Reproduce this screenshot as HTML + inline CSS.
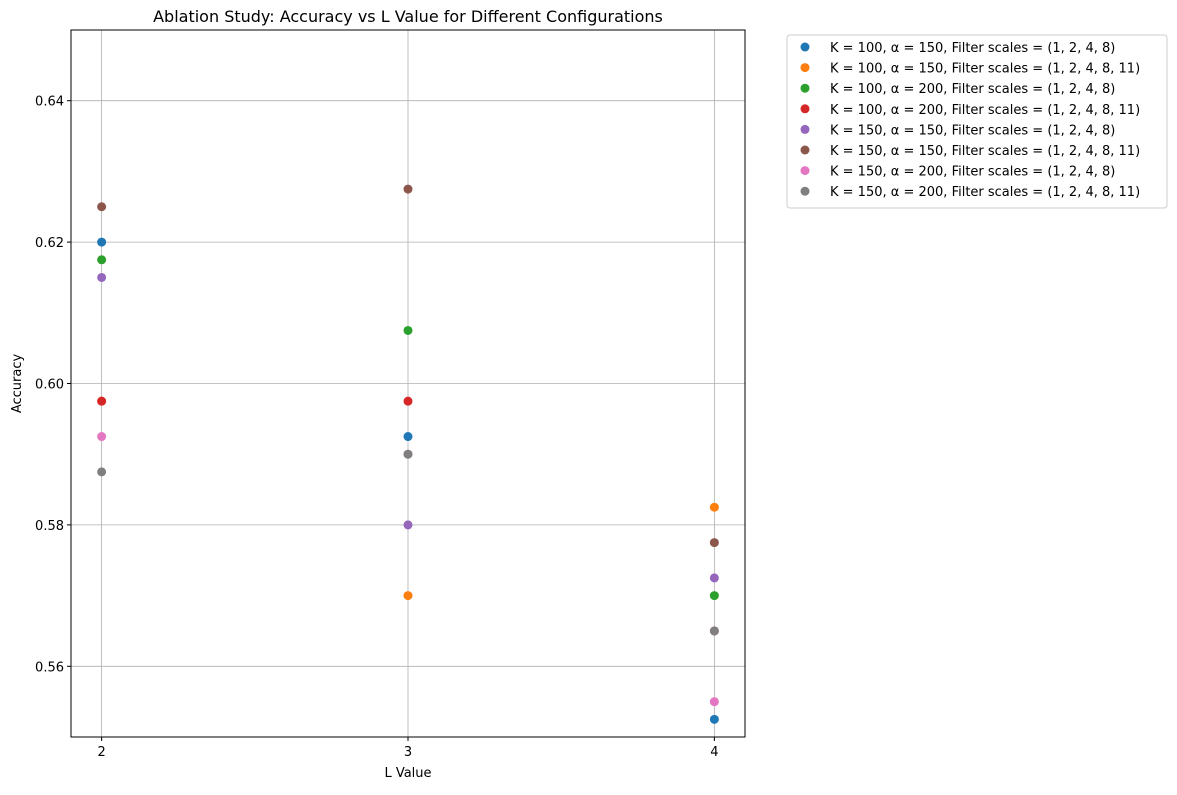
<!DOCTYPE html>
<html><head><meta charset="utf-8"><style>
body{margin:0;background:#fff;}
svg{font-family:"DejaVu Sans","Liberation Sans",sans-serif;}
</style></head><body>
<svg id="chart" width="1177" height="790" xmlns="http://www.w3.org/2000/svg">
<rect width="1177" height="790" fill="#fff"/>
<text x="408" y="22" text-anchor="middle" font-size="16">Ablation Study: Accuracy vs L Value for Different Configurations</text>
<g id="grid"></g>
<g id="axes"></g>
<g id="points"></g>
<g id="legend"></g>
</svg>
<script>
const xTicks=[2,3,4];
const yTicks=[0.56,0.58,0.60,0.62,0.64];
const yTickLabels=["0.56","0.58","0.60","0.62","0.64"];
const seriesLabels=["K = 100, α = 150, Filter scales = (1, 2, 4, 8)","K = 100, α = 150, Filter scales = (1, 2, 4, 8, 11)","K = 100, α = 200, Filter scales = (1, 2, 4, 8)","K = 100, α = 200, Filter scales = (1, 2, 4, 8, 11)","K = 150, α = 150, Filter scales = (1, 2, 4, 8)","K = 150, α = 150, Filter scales = (1, 2, 4, 8, 11)","K = 150, α = 200, Filter scales = (1, 2, 4, 8)","K = 150, α = 200, Filter scales = (1, 2, 4, 8, 11)"];
const colors=["#1f77b4","#ff7f0e","#2ca02c","#d62728","#9467bd","#8c564b","#e377c2","#7f7f7f"];
const lValues=[2,3,4];
const s0=[0.62,0.5925,0.5525];
const s1=[0.5975,0.57,0.5825];
const s2=[0.6175,0.6075,0.57];
const s3=[0.5975,0.5975,0.565];
const s4=[0.615,0.58,0.5725];
const s5=[0.625,0.6275,0.5775];
const s6=[0.5925,0.59,0.555];
const s7=[0.5875,0.59,0.565];
const series=[s0,s1,s2,s3,s4,s5,s6,s7];
const L=71,R=745,T=30,B=737;
const x=v=>L+(v-1.9)/(0.2+2)*(R-L);
const y=v=>B-(v-0.55)/0.1*(B-T);
const NS="http://www.w3.org/2000/svg";
function mk(tag,attrs,parent,text){const e=document.createElementNS(NS,tag);for(const k in attrs)e.setAttribute(k,attrs[k]);if(text!==undefined)e.textContent=text;parent.appendChild(e);return e;}
const grid=document.getElementById('grid'),axes=document.getElementById('axes'),pts=document.getElementById('points'),leg=document.getElementById('legend');
xTicks.forEach(t=>{
 const g=mk('line',{x1:x(t),x2:x(t),y1:T,y2:B,stroke:'#b0b0b0','stroke-width':0.8},grid);
 
 
 mk('line',{x1:x(t),x2:x(t),y1:B,y2:B+4,stroke:'#000'},axes);
 const l=mk('text',{x:x(t),y:B+19,'text-anchor':'middle','font-size':13},axes,String(t));
 
 
});
yTicks.forEach((t,i)=>{
 const g=mk('line',{x1:L,x2:R,y1:y(t),y2:y(t),stroke:'#b0b0b0','stroke-width':0.8},grid);
 
 
 mk('line',{x1:L-4,x2:L,y1:y(t),y2:y(t),stroke:'#000'},axes);
 const l=mk('text',{x:L-7,y:y(t)+5,'text-anchor':'end','font-size':13},axes,yTickLabels[i]);
 
 
});
const fr=mk('rect',{x:L,y:T,width:R-L,height:B-T,fill:'none',stroke:'#000','stroke-width':1},axes);


const xl=mk('text',{x:(L+R)/2,y:777,'text-anchor':'middle','font-size':13},axes,'L Value');


const yl=mk('text',{x:21,y:(T+B)/2,'text-anchor':'middle','font-size':13,transform:`rotate(-90 21 ${(T+B)/2})`},axes,'Accuracy');


series.forEach((s,i)=>{
 s.forEach((v,j)=>{
  const c=mk('circle',{cx:x(lValues[j]),cy:y(v),r:4.5,fill:colors[i]},pts);
  
  
 });
});
const lb=mk('rect',{x:787,y:35,width:380,height:173,rx:3,fill:'#fff',stroke:'#ccc'},leg);


seriesLabels.forEach((s,i)=>{
 const yy=47+i*20.6;
 const m=mk('circle',{cx:805,cy:yy,r:4.5,fill:colors[i]},leg);
 
 
 const t=mk('text',{x:830,y:yy+5,'font-size':13},leg,s);
 
 
});
</script>
</body></html>
